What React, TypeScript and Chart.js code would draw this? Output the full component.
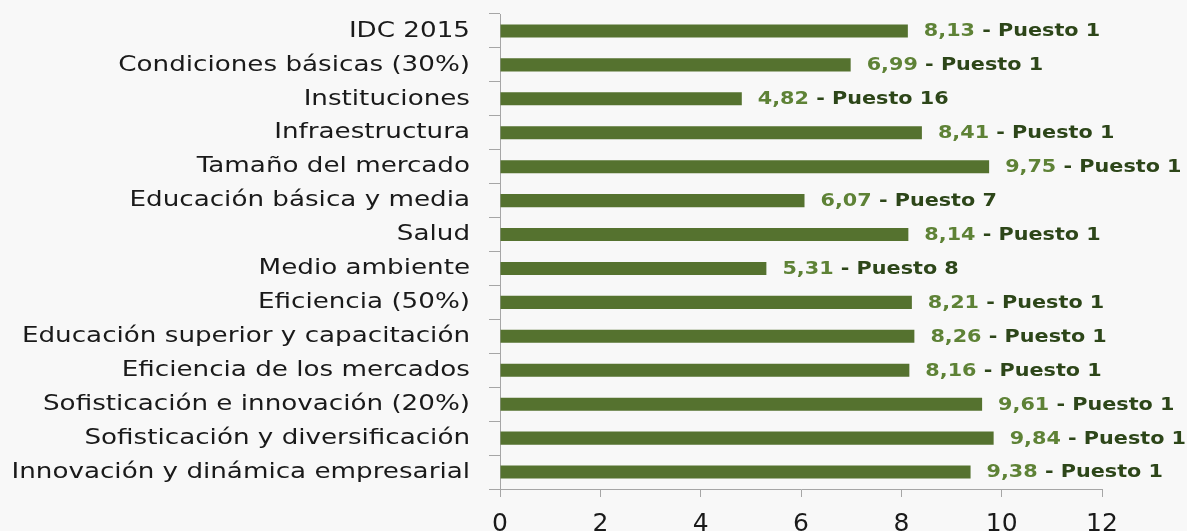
import React, { useEffect, useRef } from "react";
import { Chart, registerables } from "chart.js";

Chart.register(...registerables);

const categories = [
  "IDC 2015",
  "Condiciones básicas (30%)",
  "Instituciones",
  "Infraestructura",
  "Tamaño del mercado",
  "Educación básica y media",
  "Salud",
  "Medio ambiente",
  "Eficiencia (50%)",
  "Educación superior y capacitación",
  "Eficiencia de los mercados",
  "Sofisticación e innovación (20%)",
  "Sofisticación y diversificación",
  "Innovación y dinámica empresarial",
];
const scores = [8.13, 6.99, 4.82, 8.41, 9.75, 6.07, 8.14, 5.31, 8.21, 8.26, 8.16, 9.61, 9.84, 9.38];
const ranks = [1, 1, 16, 1, 1, 7, 1, 8, 1, 1, 1, 1, 1, 1];
const xTicks = [0, 2, 4, 6, 8, 10, 12];

const FONT = "'DejaVu Sans', sans-serif";
const Y_TICK_LEN = 11;
const Y_PAD = 19;
const Y_STRETCH = 1.19;
const LABEL_STRETCH = 1.22;

const labelPlugin = {
  id: "valueLabels",
  afterDatasetsDraw(chart: any) {
    const ctx = chart.ctx;
    const meta = chart.getDatasetMeta(0);
    ctx.save();
    ctx.font = `bold 17px ${FONT}`;
    ctx.textBaseline = "middle";
    ctx.textAlign = "left";
    meta.data.forEach((bar: any, i: number) => {
      const v = scores[i].toFixed(2).replace(".", ",");
      const x = bar.x + 16;
      const y = bar.y + 1;
      ctx.save();
      ctx.translate(x, 0);
      ctx.scale(LABEL_STRETCH, 1);
      ctx.fillStyle = "#5e8236";
      ctx.fillText(v, 0, y);
      const w = ctx.measureText(v).width;
      ctx.fillStyle = "#2d4619";
      ctx.fillText(" - Puesto " + ranks[i], w, y);
      ctx.restore();
    });
    ctx.restore();
  },
};

export default function App() {
  const ref = useRef<HTMLCanvasElement>(null);
  useEffect(() => {
    document.body.style.margin = "0";
    document.body.style.background = "#f8f8f8";
    const chart = new Chart(ref.current!, {
      type: "bar",
      data: {
        labels: categories,
        datasets: [
          {
            data: scores,
            backgroundColor: "#55722f",
            borderWidth: 0,
            barPercentage: 0.385,
            categoryPercentage: 1,
          },
        ],
      },
      options: {
        indexAxis: "y",
        animation: false,
        responsive: true,
        maintainAspectRatio: false,
        layout: { padding: { left: 0, right: 85, top: 14, bottom: 0 } },
        plugins: { legend: { display: false }, tooltip: { enabled: false } },
        scales: {
          x: {
            min: 0,
            max: 12,
            afterBuildTicks: (s: any) => {
              s.ticks = xTicks.map((v) => ({ value: v }));
            },
            afterFit: (s: any) => {
              s.height = 42;
              s.paddingLeft = 0;
              s.paddingRight = 0;
            },
            grid: {
              drawOnChartArea: false,
              drawTicks: true,
              tickLength: 8,
              color: "#a6a6a6",
            },
            border: { color: "#a6a6a6", width: 1 },
            ticks: {
              color: "#1a1a1a",
              font: { family: FONT, size: 25 },
              padding: 12,
            },
          },
          y: {
            afterFit: (s: any) => {
              s.width = 500;
              s.paddingTop = 0;
              s.paddingBottom = 0;
              if (!s.__stretched) {
                const orig = s.drawLabels.bind(s);
                s.drawLabels = (area: any) => {
                  const ctx = s.ctx;
                  const ax = s.right - Y_TICK_LEN - Y_PAD;
                  ctx.save();
                  ctx.translate(ax, 0);
                  ctx.scale(Y_STRETCH, 1);
                  ctx.translate(-ax, 0);
                  orig(area);
                  ctx.restore();
                };
                s.__stretched = true;
              }
            },
            grid: {
              drawOnChartArea: false,
              drawTicks: true,
              tickLength: Y_TICK_LEN,
              color: "#a6a6a6",
              offset: true,
            },
            border: { color: "#a6a6a6", width: 1 },
            ticks: {
              color: "#1a1a1a",
              font: { family: FONT, size: 22 },
              padding: Y_PAD,
            },
          },
        },
      },
      plugins: [labelPlugin],
    });
    return () => chart.destroy();
  }, []);
  return (
    <div style={{ width: 1187, height: 531, position: "relative", background: "#f8f8f8" }}>
      <canvas ref={ref} />
    </div>
  );
}
